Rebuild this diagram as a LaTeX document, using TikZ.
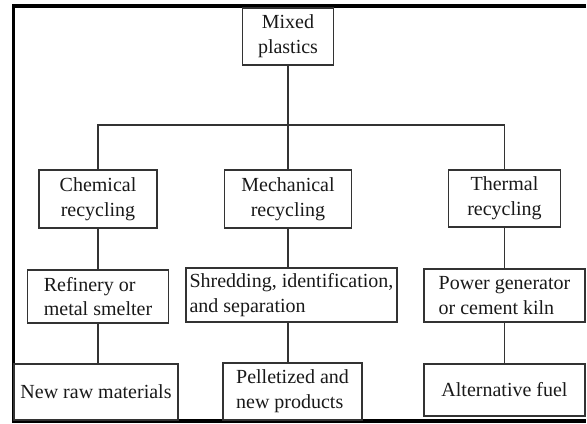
\documentclass[tikz,border=0pt]{standalone}
\usepackage{fontspec}
\setmainfont{Liberation Serif}
\usetikzlibrary{calc}

\begin{document}
\begin{tikzpicture}[x=0.75pt,y=-0.75pt,
	box/.style={draw=black!80,line width=0.9pt,inner sep=0pt,text=black!90,font=\fontsize{15}{18.5}\selectfont},
	link/.style={draw=black!80,line width=1.1pt}]
	\useasboundingbox (0,0) rectangle (587,424);
	\draw[line width=2.6pt] (586,6) -- (13.5,6) -- (13.5,421) -- (586,421);
	\node(0) [box,align=center,minimum width=68.25pt,minimum height=42.75pt] at (288,36.5) {Mixed\\plastics};
	\node(1) [box,align=center,minimum width=88.5pt,minimum height=43.5pt] at (98,199) {Chemical\\recycling};
	\node(2) [box,align=center,minimum width=95.25pt,minimum height=43.5pt] at (288,199) {Mechanical\\recycling};
	\node(3) [box,align=center,minimum width=84pt,minimum height=42.75pt] at (504.5,198.5) {Thermal\\recycling};
	\node(1a) [box,align=left,minimum width=105.75pt,minimum height=39.75pt] at (98,296.5) {Refinery or\\metal smelter};
	\node(2a) [box,align=left,minimum width=158.25pt,minimum height=40.5pt] at (291.5,295) {Shredding, identification,\\and separation};
	\node(3a) [box,align=left,minimum width=120.75pt,minimum height=39.75pt] at (504.5,295.5) {Power generator\\or cement kiln};
	\node(1b) [box,align=left,minimum width=123pt,minimum height=42pt] at (96,392) {New raw materials};
	\node(2b) [box,align=left,minimum width=104.25pt,minimum height=42.75pt] at (292.5,391.5) {Pelletized and\\new products};
	\node(3b) [box,align=left,minimum width=120.75pt,minimum height=39pt] at (504.5,390) {Alternative fuel};
	\coordinate(j) at (288,125);
	\draw[link] (0) -- (j);
	\draw[link] (1.north) |- (j) -| (3.north);
	\draw[link] (j) -- (2);
	\draw[link] (1) -- (1a);
	\draw[link] (1a) -- (1a |- 1b.north);
	\draw[link] (2) -- (2 |- 2a.north);
	\draw[link] (2a.south -| 2) -- (2 |- 2b.north);
	\draw[link] (3) -- (3a);
	\draw[link] (3a) -- (3b);
\end{tikzpicture}
\end{document}
